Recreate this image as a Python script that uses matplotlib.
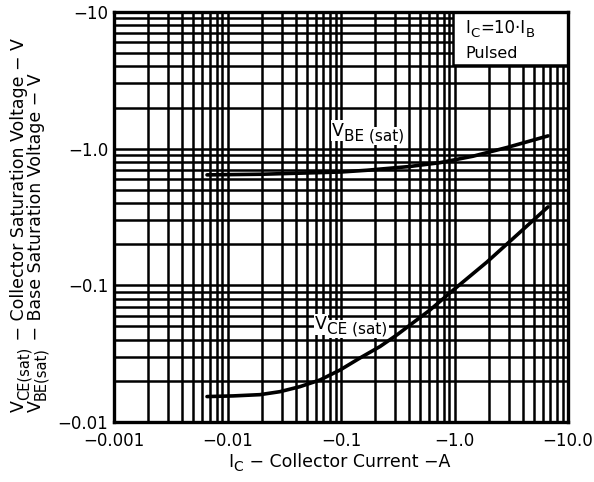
import matplotlib
matplotlib.use("Agg")
import matplotlib.pyplot as plt
from matplotlib.ticker import FixedLocator, FixedFormatter, LogLocator, NullFormatter
from matplotlib.patches import Rectangle

plt.rcParams['font.family'] = ['DejaVu Sans']
plt.rcParams['mathtext.default'] = 'regular'

# Collector current magnitude (A) and saturation voltages (V)
ic_vbe = [0.0066, 0.02, 0.0436, 0.1, 0.169, 0.4, 0.745, 1.45, 2.9, 6.67]
vbe_sat = [0.643, 0.65, 0.662, 0.675, 0.695, 0.74, 0.79, 0.88, 1.02, 1.24]

ic_vce = [0.0066, 0.0112, 0.0193, 0.029, 0.0436, 0.0653, 0.098, 0.147, 0.221,
          0.311, 0.608, 1.0, 1.93, 3.56, 6.67]
vce_sat = [0.01535, 0.01552, 0.01585, 0.01667, 0.01815, 0.0203, 0.024, 0.0294,
           0.0357, 0.0434, 0.066, 0.094, 0.148, 0.234, 0.375]

x_ticks = [0.001, 0.01, 0.1, 1.0, 10.0]
x_labels = ["\u22120.001", "\u22120.01", "\u22120.1", "\u22121.0", "\u221210.0"]
y_ticks = [0.01, 0.1, 1.0, 10.0]
y_labels = ["\u22120.01", "\u22120.1", "\u22121.0", "\u221210"]

W, H = 594, 482
fig = plt.figure(figsize=(W / 100, H / 100), dpi=100)
ax = fig.add_axes([114 / W, 1 - 422 / H, (568 - 114) / W, (422 - 12) / H])
ax.set_xscale('log')
ax.set_yscale('log')
ax.set_xlim(0.001, 10)
ax.set_ylim(0.01, 10)

ax.xaxis.set_major_locator(FixedLocator(x_ticks))
ax.xaxis.set_major_formatter(FixedFormatter(x_labels))
ax.yaxis.set_major_locator(FixedLocator(y_ticks))
ax.yaxis.set_major_formatter(FixedFormatter(y_labels))
ax.xaxis.set_minor_locator(LogLocator(base=10, subs=range(2, 10)))
ax.yaxis.set_minor_locator(LogLocator(base=10, subs=range(2, 10)))
ax.xaxis.set_minor_formatter(NullFormatter())
ax.yaxis.set_minor_formatter(NullFormatter())
ax.tick_params(which='both', length=0, labelsize=12, colors='black')
ax.tick_params(axis='x', pad=7)
ax.tick_params(axis='y', pad=4)
ax.grid(which='both', color='black', linewidth=1.8)
ax.set_axisbelow(True)
for s in ax.spines.values():
    s.set_linewidth(2.4)
    s.set_zorder(5)

ax.plot(ic_vbe, vbe_sat, color='black', linewidth=2.6, zorder=3,
        solid_joinstyle='round', solid_capstyle='round')
ax.plot(ic_vce, vce_sat, color='black', linewidth=2.6, zorder=3,
        solid_joinstyle='round', solid_capstyle='round')


def chain_h(first, pieces, zorder=6, bg=False):
    prev, prev_dy = first, 0.0
    for s, size, dy, gap in pieces:
        kw = {}
        if bg:
            kw['bbox'] = dict(facecolor='white', edgecolor='none', pad=1.0)
        a = ax.annotate(s, xy=(1, 0), xycoords=prev, xytext=(gap, dy - prev_dy),
                        textcoords='offset points', fontsize=size, va='bottom',
                        ha='left', annotation_clip=False, zorder=zorder, **kw)
        prev, prev_dy = a, dy
    return prev


def chain_v(first, pieces):
    prev, prev_dy = first, 0.0
    for s, size, dy, gap in pieces:
        a = ax.annotate(s, xy=(1, 1), xycoords=prev, xytext=(-(dy - prev_dy), gap),
                        textcoords='offset points', fontsize=size, va='bottom',
                        ha='right', rotation=90, annotation_clip=False, zorder=6)
        prev, prev_dy = a, dy
    return prev


bgk = dict(facecolor='white', edgecolor='none', pad=1.0)
# curve labels
t = ax.text(0.0834, 1.16, "V", fontsize=12.5, va='bottom', ha='left', bbox=bgk, zorder=6)
chain_h(t, [("BE (sat)", 11, -2.5, 0.3)], bg=True)
t = ax.text(0.059, 0.0445, "V", fontsize=12.5, va='bottom', ha='left', bbox=bgk, zorder=6)
chain_h(t, [("CE (sat)", 11, -2.5, 0.3)], bg=True)

# condition box
ax.add_patch(Rectangle(((453 - 114) / 454, 1 - (65 - 12) / 410), (568 - 453) / 454,
                       (65 - 12) / 410, transform=ax.transAxes, facecolor='white',
                       edgecolor='black', linewidth=1.8, zorder=4))
t = fig.text(465 / W, 1 - 37 / H, "I", fontsize=12, va='bottom', ha='left', zorder=6)
chain_h(t, [("C", 9.5, -2.5, 0.3), ("=10\u00b7I", 12, 0, 0.3), ("B", 9.5, -2.5, 0.3)])
fig.text(465 / W, 1 - 61 / H, "Pulsed", fontsize=11.5, va='bottom', ha='left', zorder=6)

# x label
t = fig.text(228 / W, 1 - 471 / H, "I", fontsize=12.5, va='bottom', ha='left')
chain_h(t, [("C", 10, -2.5, 0.3), (" \u2212 Collector Current \u2212A", 12.5, 0, 0.3)])

# y labels (two rotated lines)
t = fig.text(28 / W, 1 - 412 / H, "V", fontsize=12.5, rotation=90, va='bottom', ha='right')
chain_v(t, [("CE(sat)", 10.5, -2.5, 0.3),
            (" \u2212 Collector Saturation Voltage \u2212 V", 12.5, 0, 0.3)])
t = fig.text(45 / W, 1 - 412 / H, "V", fontsize=12.5, rotation=90, va='bottom', ha='right')
chain_v(t, [("BE(sat)", 10.5, -2.5, 0.3),
            (" \u2212 Base Saturation Voltage \u2212 V", 12.5, 0, 0.3)])

fig.savefig("out.png", dpi=100)
